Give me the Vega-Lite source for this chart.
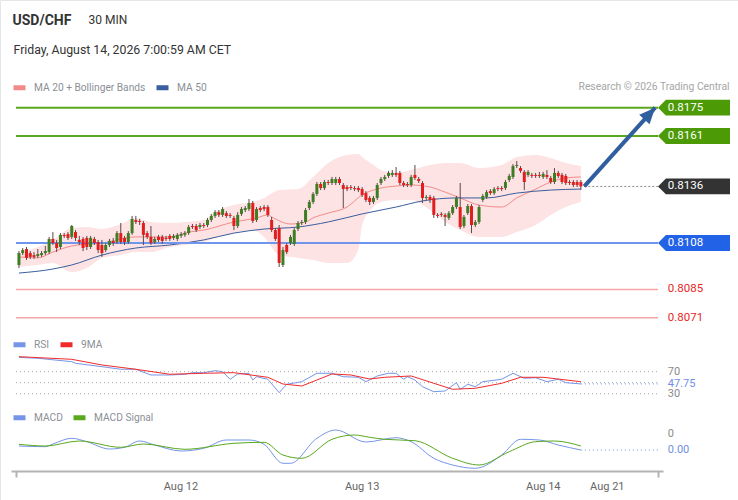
{
"$schema": "https://vega.github.io/schema/vega-lite/v6.json",
"width": 738, "height": 500, "autosize": "none", "padding": 0,
"background": "#ffffff",
"config": {"view": {"stroke": "#e4e7ea"}, "font": "Roboto"},
"datasets": {
"candles": [
{"i":0,"o":0.80971,"h":0.8104,"l":0.80956,"c":0.8103},
{"i":1,"o":0.8103,"h":0.81055,"l":0.8102,"c":0.81045},
{"i":2,"o":0.8105,"h":0.8106,"l":0.80996,"c":0.81006},
{"i":3,"o":0.8103,"h":0.8104,"l":0.81001,"c":0.81011},
{"i":4,"o":0.8102,"h":0.81035,"l":0.81001,"c":0.81011},
{"i":5,"o":0.81015,"h":0.8105,"l":0.81006,"c":0.81025},
{"i":6,"o":0.8102,"h":0.8104,"l":0.81011,"c":0.8103},
{"i":7,"o":0.8103,"h":0.81065,"l":0.8102,"c":0.8104},
{"i":8,"o":0.81035,"h":0.8111,"l":0.81025,"c":0.811},
{"i":9,"o":0.811,"h":0.81134,"l":0.8107,"c":0.8108},
{"i":10,"o":0.8108,"h":0.81095,"l":0.81035,"c":0.81055},
{"i":11,"o":0.8106,"h":0.81129,"l":0.8105,"c":0.8112},
{"i":12,"o":0.8112,"h":0.81129,"l":0.81105,"c":0.81115},
{"i":13,"o":0.81124,"h":0.81134,"l":0.81095,"c":0.81105},
{"i":14,"o":0.8111,"h":0.81169,"l":0.811,"c":0.81164},
{"i":15,"o":0.81134,"h":0.81144,"l":0.8109,"c":0.81105},
{"i":16,"o":0.81095,"h":0.81115,"l":0.8107,"c":0.81085},
{"i":17,"o":0.811,"h":0.8111,"l":0.8104,"c":0.81055},
{"i":18,"o":0.81105,"h":0.81115,"l":0.81045,"c":0.8106},
{"i":19,"o":0.8106,"h":0.81115,"l":0.8105,"c":0.81105},
{"i":20,"o":0.811,"h":0.8111,"l":0.8107,"c":0.8108},
{"i":21,"o":0.81085,"h":0.81095,"l":0.8103,"c":0.81045},
{"i":22,"o":0.8107,"h":0.81095,"l":0.81011,"c":0.8103},
{"i":23,"o":0.81045,"h":0.8108,"l":0.81035,"c":0.8107},
{"i":24,"o":0.8107,"h":0.811,"l":0.8106,"c":0.8109},
{"i":25,"o":0.8109,"h":0.81105,"l":0.81065,"c":0.8108},
{"i":26,"o":0.81085,"h":0.81139,"l":0.81075,"c":0.81129},
{"i":27,"o":0.81129,"h":0.81179,"l":0.81075,"c":0.81085},
{"i":28,"o":0.81105,"h":0.81115,"l":0.8107,"c":0.81085},
{"i":29,"o":0.81085,"h":0.81139,"l":0.81075,"c":0.81129},
{"i":30,"o":0.81129,"h":0.81214,"l":0.8112,"c":0.81199},
{"i":31,"o":0.81194,"h":0.81214,"l":0.81174,"c":0.81184},
{"i":32,"o":0.81189,"h":0.81199,"l":0.81169,"c":0.81184},
{"i":33,"o":0.81179,"h":0.81189,"l":0.8107,"c":0.8112},
{"i":34,"o":0.81129,"h":0.81139,"l":0.811,"c":0.8111},
{"i":35,"o":0.8111,"h":0.81164,"l":0.8107,"c":0.8108},
{"i":36,"o":0.81085,"h":0.8111,"l":0.81075,"c":0.811},
{"i":37,"o":0.8111,"h":0.8112,"l":0.81085,"c":0.81095},
{"i":38,"o":0.8111,"h":0.8112,"l":0.81075,"c":0.8109},
{"i":39,"o":0.81105,"h":0.81115,"l":0.8109,"c":0.811},
{"i":40,"o":0.81115,"h":0.81124,"l":0.8109,"c":0.811},
{"i":41,"o":0.81105,"h":0.81124,"l":0.81095,"c":0.81115},
{"i":42,"o":0.811,"h":0.81129,"l":0.8109,"c":0.8112},
{"i":43,"o":0.81115,"h":0.81134,"l":0.81105,"c":0.81124},
{"i":44,"o":0.8112,"h":0.81139,"l":0.8111,"c":0.81129},
{"i":45,"o":0.81129,"h":0.81169,"l":0.8112,"c":0.81159},
{"i":46,"o":0.81164,"h":0.81174,"l":0.81149,"c":0.81159},
{"i":47,"o":0.81164,"h":0.81174,"l":0.81134,"c":0.81144},
{"i":48,"o":0.81159,"h":0.81179,"l":0.81149,"c":0.81169},
{"i":49,"o":0.81169,"h":0.81179,"l":0.81154,"c":0.81164},
{"i":50,"o":0.81169,"h":0.81204,"l":0.81159,"c":0.81194},
{"i":51,"o":0.81194,"h":0.81224,"l":0.81184,"c":0.81214},
{"i":52,"o":0.81214,"h":0.81243,"l":0.81204,"c":0.81233},
{"i":53,"o":0.81233,"h":0.81243,"l":0.81209,"c":0.81219},
{"i":54,"o":0.81219,"h":0.81258,"l":0.81209,"c":0.81248},
{"i":55,"o":0.81228,"h":0.81238,"l":0.81204,"c":0.81214},
{"i":56,"o":0.81219,"h":0.81228,"l":0.81204,"c":0.81214},
{"i":57,"o":0.81204,"h":0.81214,"l":0.81144,"c":0.81164},
{"i":58,"o":0.81164,"h":0.81233,"l":0.81154,"c":0.81219},
{"i":59,"o":0.81224,"h":0.81258,"l":0.81214,"c":0.81248},
{"i":60,"o":0.81243,"h":0.81263,"l":0.81233,"c":0.81253},
{"i":61,"o":0.81248,"h":0.81298,"l":0.81238,"c":0.81278},
{"i":62,"o":0.81278,"h":0.81288,"l":0.81179,"c":0.81189},
{"i":63,"o":0.81194,"h":0.81258,"l":0.81184,"c":0.81248},
{"i":64,"o":0.81253,"h":0.81263,"l":0.81233,"c":0.81243},
{"i":65,"o":0.81258,"h":0.81268,"l":0.81238,"c":0.81248},
{"i":66,"o":0.81258,"h":0.81268,"l":0.81209,"c":0.81219},
{"i":67,"o":0.81194,"h":0.81209,"l":0.81134,"c":0.81144},
{"i":68,"o":0.81144,"h":0.81154,"l":0.8109,"c":0.811},
{"i":69,"o":0.81154,"h":0.81169,"l":0.80961,"c":0.80981},
{"i":70,"o":0.80971,"h":0.8106,"l":0.80961,"c":0.81045},
{"i":71,"o":0.8107,"h":0.8108,"l":0.81025,"c":0.81035},
{"i":72,"o":0.8108,"h":0.8112,"l":0.8107,"c":0.8111},
{"i":73,"o":0.81075,"h":0.81154,"l":0.81065,"c":0.81144},
{"i":74,"o":0.81149,"h":0.81189,"l":0.81139,"c":0.81179},
{"i":75,"o":0.81179,"h":0.81194,"l":0.81169,"c":0.81184},
{"i":76,"o":0.81184,"h":0.81253,"l":0.81174,"c":0.81243},
{"i":77,"o":0.81253,"h":0.81293,"l":0.81243,"c":0.81283},
{"i":78,"o":0.81283,"h":0.81332,"l":0.81273,"c":0.81323},
{"i":79,"o":0.81323,"h":0.81382,"l":0.81313,"c":0.81372},
{"i":80,"o":0.81372,"h":0.81382,"l":0.81342,"c":0.81352},
{"i":81,"o":0.81352,"h":0.81392,"l":0.81342,"c":0.81382},
{"i":82,"o":0.81382,"h":0.81392,"l":0.81367,"c":0.81377},
{"i":83,"o":0.81377,"h":0.81407,"l":0.81367,"c":0.81397},
{"i":84,"o":0.81377,"h":0.81407,"l":0.81367,"c":0.81397},
{"i":85,"o":0.81397,"h":0.81407,"l":0.81367,"c":0.81377},
{"i":86,"o":0.81367,"h":0.81377,"l":0.81253,"c":0.81347},
{"i":87,"o":0.81357,"h":0.81367,"l":0.81337,"c":0.81347},
{"i":88,"o":0.81357,"h":0.81367,"l":0.81342,"c":0.81352},
{"i":89,"o":0.81352,"h":0.81362,"l":0.81337,"c":0.81347},
{"i":90,"o":0.81352,"h":0.81362,"l":0.81332,"c":0.81342},
{"i":91,"o":0.81347,"h":0.81357,"l":0.81308,"c":0.81318},
{"i":92,"o":0.81327,"h":0.81337,"l":0.81283,"c":0.81293},
{"i":93,"o":0.81303,"h":0.81313,"l":0.81268,"c":0.81283},
{"i":94,"o":0.81283,"h":0.81313,"l":0.81273,"c":0.81303},
{"i":95,"o":0.81303,"h":0.81377,"l":0.81293,"c":0.81367},
{"i":96,"o":0.81377,"h":0.81407,"l":0.81367,"c":0.81397},
{"i":97,"o":0.81397,"h":0.81417,"l":0.81387,"c":0.81407},
{"i":98,"o":0.81412,"h":0.81437,"l":0.81402,"c":0.81427},
{"i":99,"o":0.81417,"h":0.81441,"l":0.81407,"c":0.81427},
{"i":100,"o":0.81427,"h":0.81456,"l":0.81407,"c":0.81417},
{"i":101,"o":0.81427,"h":0.81437,"l":0.81367,"c":0.81377},
{"i":102,"o":0.81377,"h":0.81387,"l":0.81357,"c":0.81367},
{"i":103,"o":0.81372,"h":0.81382,"l":0.81357,"c":0.81367},
{"i":104,"o":0.81367,"h":0.81417,"l":0.81357,"c":0.81407},
{"i":105,"o":0.81417,"h":0.81466,"l":0.81392,"c":0.81402},
{"i":106,"o":0.81397,"h":0.81407,"l":0.81377,"c":0.81387},
{"i":107,"o":0.81377,"h":0.81387,"l":0.81278,"c":0.81303},
{"i":108,"o":0.81303,"h":0.81318,"l":0.81293,"c":0.81308},
{"i":109,"o":0.81308,"h":0.81318,"l":0.81278,"c":0.81293},
{"i":110,"o":0.81303,"h":0.81313,"l":0.81204,"c":0.81219},
{"i":111,"o":0.81219,"h":0.81228,"l":0.81204,"c":0.81214},
{"i":112,"o":0.81224,"h":0.81233,"l":0.81209,"c":0.81219},
{"i":113,"o":0.81219,"h":0.81228,"l":0.81164,"c":0.81209},
{"i":114,"o":0.81204,"h":0.81238,"l":0.81194,"c":0.81228},
{"i":115,"o":0.81228,"h":0.81268,"l":0.81219,"c":0.81258},
{"i":116,"o":0.81258,"h":0.81313,"l":0.81248,"c":0.81303},
{"i":117,"o":0.81258,"h":0.81377,"l":0.81149,"c":0.81159},
{"i":118,"o":0.81164,"h":0.81219,"l":0.81154,"c":0.81209},
{"i":119,"o":0.81228,"h":0.81273,"l":0.81219,"c":0.81263},
{"i":120,"o":0.81263,"h":0.81273,"l":0.81129,"c":0.81169},
{"i":121,"o":0.81169,"h":0.81194,"l":0.81159,"c":0.81184},
{"i":122,"o":0.81184,"h":0.81268,"l":0.81174,"c":0.81258},
{"i":123,"o":0.81293,"h":0.81323,"l":0.81283,"c":0.81313},
{"i":124,"o":0.81308,"h":0.81342,"l":0.81298,"c":0.81332},
{"i":125,"o":0.81337,"h":0.81347,"l":0.81318,"c":0.81327},
{"i":126,"o":0.81327,"h":0.81357,"l":0.81318,"c":0.81347},
{"i":127,"o":0.81352,"h":0.81362,"l":0.81337,"c":0.81347},
{"i":128,"o":0.81352,"h":0.81362,"l":0.81337,"c":0.81347},
{"i":129,"o":0.81352,"h":0.81392,"l":0.81342,"c":0.81382},
{"i":130,"o":0.81392,"h":0.81422,"l":0.81382,"c":0.81412},
{"i":131,"o":0.81407,"h":0.81471,"l":0.81397,"c":0.81461},
{"i":132,"o":0.81461,"h":0.81486,"l":0.81451,"c":0.81466},
{"i":133,"o":0.81451,"h":0.81461,"l":0.81427,"c":0.81437},
{"i":134,"o":0.81432,"h":0.81441,"l":0.81342,"c":0.81382},
{"i":135,"o":0.81417,"h":0.81441,"l":0.81407,"c":0.81432},
{"i":136,"o":0.81417,"h":0.81427,"l":0.81402,"c":0.81412},
{"i":137,"o":0.81417,"h":0.81427,"l":0.81402,"c":0.81412},
{"i":138,"o":0.81417,"h":0.81432,"l":0.81402,"c":0.81412},
{"i":139,"o":0.81407,"h":0.81432,"l":0.81397,"c":0.81422},
{"i":140,"o":0.81417,"h":0.81441,"l":0.81397,"c":0.81407},
{"i":141,"o":0.81402,"h":0.81412,"l":0.81372,"c":0.81382},
{"i":142,"o":0.81382,"h":0.81451,"l":0.81372,"c":0.81427},
{"i":143,"o":0.81427,"h":0.81437,"l":0.81402,"c":0.81412},
{"i":144,"o":0.81417,"h":0.81427,"l":0.81372,"c":0.81382},
{"i":145,"o":0.81412,"h":0.81422,"l":0.81367,"c":0.81377},
{"i":146,"o":0.81382,"h":0.81392,"l":0.81367,"c":0.81377},
{"i":147,"o":0.81382,"h":0.81392,"l":0.81357,"c":0.81367},
{"i":148,"o":0.81382,"h":0.81392,"l":0.81357,"c":0.81367},
{"i":149,"o":0.81382,"h":0.81392,"l":0.81342,"c":0.8136}
],
"band": [
{"i":0,"up":0.8103,"lo":0.80961},{"i":5,"up":0.8106,"lo":0.80971},{"i":9,"up":0.81095,"lo":0.80981},
{"i":14,"up":0.81154,"lo":0.80936},{"i":18,"up":0.81159,"lo":0.80956},{"i":22,"up":0.81149,"lo":0.81006},
{"i":27,"up":0.81174,"lo":0.8102},{"i":31,"up":0.81204,"lo":0.81035},{"i":35,"up":0.81184,"lo":0.81035},
{"i":40,"up":0.81179,"lo":0.8106},{"i":44,"up":0.81184,"lo":0.8107},{"i":49,"up":0.81194,"lo":0.81085},
{"i":53,"up":0.81243,"lo":0.8111},{"i":57,"up":0.81268,"lo":0.81129},{"i":62,"up":0.81283,"lo":0.81144},
{"i":65,"up":0.81303,"lo":0.8111},{"i":69,"up":0.81342,"lo":0.8102},{"i":74,"up":0.81347,"lo":0.81006},
{"i":78,"up":0.81407,"lo":0.80996},{"i":82,"up":0.81476,"lo":0.80981},{"i":87,"up":0.81516,"lo":0.80981},
{"i":90,"up":0.81521,"lo":0.81045},{"i":91,"up":0.81506,"lo":0.81169},{"i":94,"up":0.81466,"lo":0.81258},
{"i":96,"up":0.81441,"lo":0.81283},{"i":100,"up":0.81427,"lo":0.81293},{"i":104,"up":0.81441,"lo":0.81293},
{"i":109,"up":0.81466,"lo":0.81243},{"i":113,"up":0.81476,"lo":0.81184},{"i":117,"up":0.81476,"lo":0.81144},
{"i":122,"up":0.81451,"lo":0.8111},{"i":128,"up":0.81466,"lo":0.8111},{"i":132,"up":0.81506,"lo":0.81134},
{"i":137,"up":0.81516,"lo":0.81169},{"i":141,"up":0.81501,"lo":0.81219},{"i":145,"up":0.81476,"lo":0.81258},
{"i":149,"up":0.81461,"lo":0.81283}
],
"ma": [
{"s":"MA 20 + Bollinger Bands","i":0,"v":0.81011},{"s":"MA 20 + Bollinger Bands","i":5,"v":0.81006},
{"s":"MA 20 + Bollinger Bands","i":9,"v":0.81035},{"s":"MA 20 + Bollinger Bands","i":14,"v":0.81065},
{"s":"MA 20 + Bollinger Bands","i":22,"v":0.8108},{"s":"MA 20 + Bollinger Bands","i":31,"v":0.8111},
{"s":"MA 20 + Bollinger Bands","i":40,"v":0.8111},{"s":"MA 20 + Bollinger Bands","i":45,"v":0.81134},
{"s":"MA 20 + Bollinger Bands","i":49,"v":0.81144},{"s":"MA 20 + Bollinger Bands","i":57,"v":0.81184},
{"s":"MA 20 + Bollinger Bands","i":63,"v":0.81204},{"s":"MA 20 + Bollinger Bands","i":66,"v":0.81219},
{"s":"MA 20 + Bollinger Bands","i":67,"v":0.81209},{"s":"MA 20 + Bollinger Bands","i":72,"v":0.81174},
{"s":"MA 20 + Bollinger Bands","i":76,"v":0.81184},{"s":"MA 20 + Bollinger Bands","i":78,"v":0.81204},
{"s":"MA 20 + Bollinger Bands","i":82,"v":0.81228},{"s":"MA 20 + Bollinger Bands","i":87,"v":0.81258},
{"s":"MA 20 + Bollinger Bands","i":91,"v":0.81318},{"s":"MA 20 + Bollinger Bands","i":96,"v":0.81352},
{"s":"MA 20 + Bollinger Bands","i":100,"v":0.81362},{"s":"MA 20 + Bollinger Bands","i":104,"v":0.81367},
{"s":"MA 20 + Bollinger Bands","i":109,"v":0.81357},{"s":"MA 20 + Bollinger Bands","i":113,"v":0.81332},
{"s":"MA 20 + Bollinger Bands","i":117,"v":0.81303},{"s":"MA 20 + Bollinger Bands","i":122,"v":0.81268},
{"s":"MA 20 + Bollinger Bands","i":128,"v":0.81258},{"s":"MA 20 + Bollinger Bands","i":132,"v":0.81303},
{"s":"MA 20 + Bollinger Bands","i":137,"v":0.81347},{"s":"MA 20 + Bollinger Bands","i":141,"v":0.81382},
{"s":"MA 20 + Bollinger Bands","i":145,"v":0.81402},{"s":"MA 20 + Bollinger Bands","i":149,"v":0.81407},
{"s":"MA 50","i":0,"v":0.80931},{"s":"MA 50","i":9,"v":0.80951},{"s":"MA 50","i":14,"v":0.80971},
{"s":"MA 50","i":22,"v":0.8102},{"s":"MA 50","i":31,"v":0.81055},{"s":"MA 50","i":40,"v":0.8107},
{"s":"MA 50","i":49,"v":0.81095},{"s":"MA 50","i":57,"v":0.81129},{"s":"MA 50","i":65,"v":0.81149},
{"s":"MA 50","i":74,"v":0.81159},{"s":"MA 50","i":82,"v":0.81184},{"s":"MA 50","i":91,"v":0.81224},
{"s":"MA 50","i":100,"v":0.81258},{"s":"MA 50","i":107,"v":0.81288},{"s":"MA 50","i":116,"v":0.81303},
{"s":"MA 50","i":124,"v":0.81303},{"s":"MA 50","i":132,"v":0.81327},{"s":"MA 50","i":141,"v":0.81342},
{"s":"MA 50","i":149,"v":0.81347}
],
"rsi": [
{"s":"RSI","i":0,"v":96},{"s":"RSI","i":5,"v":94.4},{"s":"RSI","i":14,"v":88.2},{"s":"RSI","i":15,"v":85.3},
{"s":"RSI","i":22,"v":79.1},{"s":"RSI","i":27,"v":74.4},{"s":"RSI","i":31,"v":74.4},{"s":"RSI","i":35,"v":64},
{"s":"RSI","i":40,"v":64},{"s":"RSI","i":44,"v":65.3},{"s":"RSI","i":46,"v":68.2},{"s":"RSI","i":49,"v":68.2},
{"s":"RSI","i":52,"v":71.8},{"s":"RSI","i":54,"v":70},{"s":"RSI","i":56,"v":56.2},{"s":"RSI","i":58,"v":65.8},
{"s":"RSI","i":61,"v":67.1},{"s":"RSI","i":62,"v":54.9},{"s":"RSI","i":63,"v":60.9},{"s":"RSI","i":66,"v":56.2},
{"s":"RSI","i":69,"v":31.8},{"s":"RSI","i":71,"v":47.1},{"s":"RSI","i":75,"v":51.8},{"s":"RSI","i":79,"v":67.1},
{"s":"RSI","i":83,"v":67.1},{"s":"RSI","i":86,"v":60.9},{"s":"RSI","i":90,"v":59.8},{"s":"RSI","i":92,"v":51.8},
{"s":"RSI","i":95,"v":62.2},{"s":"RSI","i":98,"v":67.1},{"s":"RSI","i":100,"v":67.1},{"s":"RSI","i":102,"v":56.2},
{"s":"RSI","i":103,"v":60.9},{"s":"RSI","i":105,"v":54.9},{"s":"RSI","i":107,"v":42.7},{"s":"RSI","i":110,"v":33.6},
{"s":"RSI","i":113,"v":34.9},{"s":"RSI","i":116,"v":50},{"s":"RSI","i":117,"v":38},{"s":"RSI","i":119,"v":47.1},
{"s":"RSI","i":121,"v":42.7},{"s":"RSI","i":123,"v":51.8},{"s":"RSI","i":128,"v":56.2},{"s":"RSI","i":131,"v":67.1},
{"s":"RSI","i":134,"v":58},{"s":"RSI","i":137,"v":59.1},{"s":"RSI","i":140,"v":51.8},{"s":"RSI","i":143,"v":56.2},
{"s":"RSI","i":145,"v":50},{"s":"RSI","i":149,"v":47.75},
{"s":"9MA","i":0,"v":97.3},{"s":"9MA","i":14,"v":92.5},{"s":"9MA","i":22,"v":82.2},{"s":"9MA","i":31,"v":74.4},
{"s":"9MA","i":40,"v":65.3},{"s":"9MA","i":49,"v":67.1},{"s":"9MA","i":57,"v":68.2},{"s":"9MA","i":66,"v":59.8},
{"s":"9MA","i":70,"v":47.6},{"s":"9MA","i":75,"v":44},{"s":"9MA","i":79,"v":54.9},{"s":"9MA","i":83,"v":65.8},
{"s":"9MA","i":88,"v":64},{"s":"9MA","i":93,"v":56.7},{"s":"9MA","i":97,"v":59.8},{"s":"9MA","i":104,"v":62.2},
{"s":"9MA","i":110,"v":48.9},{"s":"9MA","i":115,"v":38},{"s":"9MA","i":121,"v":39.8},{"s":"9MA","i":128,"v":48.9},
{"s":"9MA","i":133,"v":59.8},{"s":"9MA","i":139,"v":59.8},{"s":"9MA","i":149,"v":51.8}
],
"macd": [
{"s":"MACD","i":0,"v":-0.00012},{"s":"MACD","i":7,"v":-0.000127},{"s":"MACD","i":9,"v":-0.0001},
{"s":"MACD","i":14,"v":-0.000043},{"s":"MACD","i":18,"v":-0.000077},{"s":"MACD","i":24,"v":-0.00015},
{"s":"MACD","i":28,"v":-0.000133},{"s":"MACD","i":32,"v":-0.00007},{"s":"MACD","i":36,"v":-0.00011},
{"s":"MACD","i":43,"v":-0.00017},{"s":"MACD","i":49,"v":-0.000143},{"s":"MACD","i":55,"v":-0.00006},
{"s":"MACD","i":61,"v":-0.00006},{"s":"MACD","i":65,"v":-0.000103},{"s":"MACD","i":70,"v":-0.000293},
{"s":"MACD","i":72,"v":-0.000293},{"s":"MACD","i":79,"v":-0.000043},{"s":"MACD","i":84,"v":0.00004},
{"s":"MACD","i":92,"v":-0.00008},{"s":"MACD","i":100,"v":-0.000037},{"s":"MACD","i":104,"v":-0.000077},
{"s":"MACD","i":110,"v":-0.000243},{"s":"MACD","i":115,"v":-0.00031},{"s":"MACD","i":121,"v":-0.000343},
{"s":"MACD","i":128,"v":-0.00021},{"s":"MACD","i":133,"v":-0.000053},{"s":"MACD","i":138,"v":-0.00006},
{"s":"MACD","i":143,"v":-0.00011},{"s":"MACD","i":149,"v":-0.00016},
{"s":"MACD Signal","i":0,"v":-0.000103},{"s":"MACD Signal","i":7,"v":-0.00012},{"s":"MACD Signal","i":16,"v":-0.00007},
{"s":"MACD Signal","i":27,"v":-0.000133},{"s":"MACD Signal","i":33,"v":-0.0001},{"s":"MACD Signal","i":44,"v":-0.000153},
{"s":"MACD Signal","i":57,"v":-0.000093},{"s":"MACD Signal","i":65,"v":-0.000083},{"s":"MACD Signal","i":70,"v":-0.00021},
{"s":"MACD Signal","i":75,"v":-0.000243},{"s":"MACD Signal","i":83,"v":-0.000053},{"s":"MACD Signal","i":89,"v":-0.00001},
{"s":"MACD Signal","i":93,"v":-0.000033},{"s":"MACD Signal","i":97,"v":-0.000053},{"s":"MACD Signal","i":105,"v":-0.000067},
{"s":"MACD Signal","i":115,"v":-0.000243},{"s":"MACD Signal","i":122,"v":-0.00031},{"s":"MACD Signal","i":130,"v":-0.000177},
{"s":"MACD Signal","i":137,"v":-0.000077},{"s":"MACD Signal","i":142,"v":-0.00007},{"s":"MACD Signal","i":149,"v":-0.00012}
],
"levels": [
{"p":0.8175,"k":"res"},{"p":0.8161,"k":"res"},{"p":0.8136,"k":"last"},
{"p":0.8108,"k":"piv"},{"p":0.8085,"k":"sup"},{"p":0.8071,"k":"sup"}
],
"rsiLevels": [{"v":70},{"v":50},{"v":30}],
"macdTicks": [{"v":0}],
"arrow": [{"i":149.9,"p":0.8136},{"i":168.7,"p":0.8175}]
},
"resolve": {"scale": {"y": "independent", "color": "independent"}, "axis": {"y": "independent", "x": "independent"}},
"layer": [
 {"data":{"name":"band"},
  "mark":{"type":"area","interpolate":"monotone","color":"#fde3e3","opacity":1},
  "encoding":{
   "x":{"field":"i","type":"quantitative","scale":{"domain":[-0.78,169.45],"range":[11,663],"nice":false,"zero":false},
    "axis":{"orient":"bottom","offset":-29,"values":[-0.78,42.82,90.86,138.9,155.87,169.45],
     "labelExpr":"datum.value < 0 || datum.value > 169 ? '' : datum.value < 60 ? 'Aug 12' : datum.value < 110 ? 'Aug 13' : datum.value < 150 ? 'Aug 14' : 'Aug 21'",
     "labelOverlap":false,"labelFlush":false,"labelFont":"Roboto","labelFontSize":11,"labelColor":"#666666","labelPadding":3,
     "domainColor":"#b3b3b3","domainWidth":2,"tickColor":"#b3b3b3","tickWidth":2,"tickSize":6,
     "tickOpacity":{"condition":{"test":"datum.value < 0 || datum.value > 169","value":1},"value":0},
     "grid":false,"title":"30 MIN","titleX":88,"titleY":-448,"titleAlign":"left","titleBaseline":"alphabetic",
     "titleFont":"Roboto","titleFontSize":12,"titleFontWeight":"normal","titleColor":"#333333"}},
   "y":{"field":"up","type":"quantitative","scale":{"domain":[0.79807,0.822834],"nice":false,"zero":false},
    "axis":{"orient":"left","labels":false,"ticks":false,"domain":false,"grid":false,"title":"USD/CHF","titleX":12,"titleY":24,
     "titleAngle":0,"titleAlign":"left","titleBaseline":"alphabetic","titleFont":"Roboto","titleFontSize":14,"titleFontWeight":"bold","titleColor":"#333333"}},
   "y2":{"field":"lo"}}},
 {"data":{"name":"ma"},
  "mark":{"type":"line","interpolate":"monotone"},
  "encoding":{
   "x":{"field":"i","type":"quantitative","scale":{"domain":[-0.78,169.45],"range":[11,663],"nice":false,"zero":false},"axis":null},
   "y":{"field":"v","type":"quantitative","scale":{"domain":[0.79807,0.822834],"nice":false,"zero":false},"axis":null},
   "color":{"field":"s","type":"nominal","scale":{"domain":["MA 20 + Bollinger Bands","MA 50"],"range":["#f38a8a","#3a5e9e"]},
    "legend":{"orient":"none","legendX":11,"legendY":79,"direction":"horizontal","title":null,"symbolType":"M-1,0H1","symbolSize":144,
     "symbolStrokeWidth":5,"labelFont":"Roboto","labelFontSize":10.2,"labelColor":"#8b8f96","labelOffset":6,"columnPadding":0,"padding":0}},
   "strokeWidth":{"value":1}}},
 {"data":{"name":"levels"},"transform":[{"filter":"datum.k != 'last'"}],
  "mark":{"type":"rule"},
  "encoding":{
   "x":{"datum":-0.78,"type":"quantitative","scale":{"domain":[-0.78,169.45],"range":[11,663],"nice":false,"zero":false},"axis":null},
   "x2":{"datum":169.45},
   "y":{"field":"p","type":"quantitative","scale":{"domain":[0.79807,0.822834],"nice":false,"zero":false},"axis":null},
   "color":{"condition":[{"test":"datum.k == 'res'","value":"#5aa71e"},{"test":"datum.k == 'piv'","value":"#6f95ec"}],"value":"#f6a6a6"},
   "strokeWidth":{"condition":{"test":"datum.k == 'sup'","value":1.5},"value":2}}},
 {"data":{"name":"levels"},"transform":[{"filter":"datum.k == 'last'"}],
  "mark":{"type":"rule","strokeDash":[2,2],"color":"#8c8c8c","strokeWidth":1},
  "encoding":{
   "x":{"datum":149.9,"type":"quantitative","scale":{"domain":[-0.78,169.45],"range":[11,663],"nice":false,"zero":false},"axis":null},
   "x2":{"datum":169.45},
   "y":{"field":"p","type":"quantitative","scale":{"domain":[0.79807,0.822834],"nice":false,"zero":false},"axis":null}}},
 {"data":{"name":"candles"},
  "mark":{"type":"rule","color":"#5e4848","strokeWidth":1},
  "encoding":{
   "x":{"field":"i","type":"quantitative","scale":{"domain":[-0.78,169.45],"range":[11,663],"nice":false,"zero":false},"axis":null},
   "y":{"field":"l","type":"quantitative","scale":{"domain":[0.79807,0.822834],"nice":false,"zero":false},"axis":null},
   "y2":{"field":"h"}}},
 {"data":{"name":"candles"},
  "mark":{"type":"bar","width":3},
  "encoding":{
   "x":{"field":"i","type":"quantitative","scale":{"domain":[-0.78,169.45],"range":[11,663],"nice":false,"zero":false},"axis":null},
   "y":{"field":"o","type":"quantitative","scale":{"domain":[0.79807,0.822834],"nice":false,"zero":false},"axis":null},
   "y2":{"field":"c"},
   "color":{"condition":{"test":"datum.c > datum.o","value":"#3d7d24"},"value":"#e21d1d"}}},
 {"data":{"name":"arrow"},
  "mark":{"type":"line","color":"#2f5f9f","strokeWidth":4},
  "encoding":{
   "x":{"field":"i","type":"quantitative","scale":{"domain":[-0.78,169.45],"range":[11,663],"nice":false,"zero":false},"axis":null},
   "y":{"field":"p","type":"quantitative","scale":{"domain":[0.79807,0.822834],"nice":false,"zero":false},"axis":null}}},
 {"data":{"name":"arrow"},"transform":[{"filter":"datum.p > 0.815"}],
  "mark":{"type":"point","shape":"M0,0L0.7,1.6L-0.7,1.6Z","size":400,"angle":42.5,"filled":true,"color":"#2f5f9f","opacity":1},
  "encoding":{
   "x":{"field":"i","type":"quantitative","scale":{"domain":[-0.78,169.45],"range":[11,663],"nice":false,"zero":false},"axis":null},
   "y":{"field":"p","type":"quantitative","scale":{"domain":[0.79807,0.822834],"nice":false,"zero":false},"axis":null}}},
 {"data":{"name":"levels"},"transform":[{"filter":"datum.k != 'sup'"}],
  "mark":{"type":"point","shape":"M0,0L0.22,-0.22L2,-0.22L2,0.22L0.22,0.22Z","size":5184,"filled":true,"opacity":1,"strokeWidth":0},
  "encoding":{
   "x":{"datum":169.45,"type":"quantitative","scale":{"domain":[-0.78,169.45],"range":[11,663],"nice":false,"zero":false},"axis":null},
   "y":{"field":"p","type":"quantitative","scale":{"domain":[0.79807,0.822834],"nice":false,"zero":false},"axis":null},
   "color":{"condition":[{"test":"datum.k == 'res'","value":"#4c9a06"},{"test":"datum.k == 'piv'","value":"#2262e6"}],"value":"#333333"}}},
 {"data":{"name":"levels"},
  "mark":{"type":"text","align":"left","baseline":"middle","fontSize":11.5,"font":"Roboto"},
  "encoding":{
   "x":{"datum":172.06,"type":"quantitative","scale":{"domain":[-0.78,169.45],"range":[11,663],"nice":false,"zero":false},"axis":null},
   "y":{"field":"p","type":"quantitative","scale":{"domain":[0.79807,0.822834],"nice":false,"zero":false},"axis":null},
   "text":{"field":"p","type":"quantitative","format":".4f"},
   "color":{"condition":{"test":"datum.k == 'sup'","value":"#e8281f"},"value":"#ffffff"}}},
 {"data":{"name":"rsiLevels"},
  "mark":{"type":"rule","strokeDash":[1,3],"color":"#a8a8a8","strokeWidth":1},
  "encoding":{
   "x":{"datum":-0.78,"type":"quantitative","scale":{"domain":[-0.78,169.45],"range":[11,663],"nice":false,"zero":false},"axis":null},
   "x2":{"datum":169.45},
   "y":{"field":"v","type":"quantitative","scale":{"domain":[-163.3,745.8],"nice":false,"zero":false},
    "axis":{"orient":"left","labels":false,"ticks":false,"domain":false,"grid":false,"title":"Friday, August 14, 2026 7:00:59 AM CET",
     "titleX":13,"titleY":53,"titleAngle":0,"titleAlign":"left","titleBaseline":"alphabetic","titleFont":"Roboto","titleFontSize":12.3,
     "titleFontWeight":"normal","titleColor":"#333333"}}}},
 {"data":{"name":"rsi"},
  "mark":{"type":"line"},
  "encoding":{
   "x":{"field":"i","type":"quantitative","scale":{"domain":[-0.78,169.45],"range":[11,663],"nice":false,"zero":false},"axis":null},
   "y":{"field":"v","type":"quantitative","scale":{"domain":[-163.3,745.8],"nice":false,"zero":false},"axis":null},
   "color":{"field":"s","type":"nominal","scale":{"domain":["RSI","9MA"],"range":["#7595e6","#f02a2a"]},
    "legend":{"orient":"none","legendX":11,"legendY":336,"direction":"horizontal","title":null,"symbolType":"M-1,0H1","symbolSize":144,
     "symbolStrokeWidth":5,"labelFont":"Roboto","labelFontSize":10.2,"labelColor":"#8b8f96","labelOffset":6,"columnPadding":0,"padding":0}},
   "strokeWidth":{"value":1}}},
 {"data":{"name":"rsi"},"transform":[{"filter":"datum.s == 'RSI' && datum.i == 149"}],
  "mark":{"type":"rule","strokeDash":[1,3],"color":"#7595e6","strokeWidth":1},
  "encoding":{
   "x":{"datum":149,"type":"quantitative","scale":{"domain":[-0.78,169.45],"range":[11,663],"nice":false,"zero":false},"axis":null},
   "x2":{"datum":169.45},
   "y":{"field":"v","type":"quantitative","scale":{"domain":[-163.3,745.8],"nice":false,"zero":false},"axis":null}}},
 {"data":{"name":"rsiLevels"},"transform":[{"filter":"datum.v != 50"}],
  "mark":{"type":"text","align":"left","baseline":"middle","fontSize":11,"font":"Roboto","color":"#8a8a8a"},
  "encoding":{
   "x":{"datum":172.06,"type":"quantitative","scale":{"domain":[-0.78,169.45],"range":[11,663],"nice":false,"zero":false},"axis":null},
   "y":{"field":"v","type":"quantitative","scale":{"domain":[-163.3,745.8],"nice":false,"zero":false},"axis":null},
   "text":{"field":"v","type":"quantitative","format":"d"}}},
 {"data":{"name":"rsi"},"transform":[{"filter":"datum.s == 'RSI' && datum.i == 149"}],
  "mark":{"type":"text","align":"left","baseline":"middle","fontSize":11,"font":"Roboto","color":"#6f8fe6"},
  "encoding":{
   "x":{"datum":172.06,"type":"quantitative","scale":{"domain":[-0.78,169.45],"range":[11,663],"nice":false,"zero":false},"axis":null},
   "y":{"field":"v","type":"quantitative","scale":{"domain":[-163.3,745.8],"nice":false,"zero":false},"axis":null},
   "text":{"field":"v","type":"quantitative","format":".2f"}}},
 {"data":{"name":"macd"},
  "mark":{"type":"line","interpolate":"monotone"},
  "encoding":{
   "x":{"field":"i","type":"quantitative","scale":{"domain":[-0.78,169.45],"range":[11,663],"nice":false,"zero":false},"axis":null},
   "y":{"field":"v","type":"quantitative","scale":{"domain":[-0.00066,0.00434],"nice":false,"zero":false},
    "axis":{"orient":"left","labels":false,"ticks":false,"domain":false,"grid":false,"title":"Research © 2026 Trading Central",
     "titleX":729,"titleY":89,"titleAngle":0,"titleAlign":"right","titleBaseline":"alphabetic","titleFont":"Roboto","titleFontSize":10.3,
     "titleFontWeight":"normal","titleColor":"#a6a6a6"}},
   "color":{"field":"s","type":"nominal","scale":{"domain":["MACD","MACD Signal"],"range":["#7595e6","#5aa81e"]},
    "legend":{"orient":"none","legendX":11,"legendY":409,"direction":"horizontal","title":null,"symbolType":"M-1,0H1","symbolSize":144,
     "symbolStrokeWidth":5,"labelFont":"Roboto","labelFontSize":10.2,"labelColor":"#8b8f96","labelOffset":6,"columnPadding":0,"padding":0}},
   "strokeWidth":{"value":1}}},
 {"data":{"name":"macd"},"transform":[{"filter":"datum.s == 'MACD' && datum.i == 149"}],
  "mark":{"type":"rule","strokeDash":[1,3],"color":"#7595e6","strokeWidth":1},
  "encoding":{
   "x":{"datum":149,"type":"quantitative","scale":{"domain":[-0.78,169.45],"range":[11,663],"nice":false,"zero":false},"axis":null},
   "x2":{"datum":169.45},
   "y":{"field":"v","type":"quantitative","scale":{"domain":[-0.00066,0.00434],"nice":false,"zero":false},"axis":null}}},
 {"data":{"name":"macdTicks"},
  "mark":{"type":"text","align":"left","baseline":"middle","fontSize":11,"font":"Roboto","color":"#8a8a8a"},
  "encoding":{
   "x":{"datum":172.06,"type":"quantitative","scale":{"domain":[-0.78,169.45],"range":[11,663],"nice":false,"zero":false},"axis":null},
   "y":{"field":"v","type":"quantitative","scale":{"domain":[-0.00066,0.00434],"nice":false,"zero":false},"axis":null},
   "text":{"field":"v","type":"quantitative","format":"d"}}},
 {"data":{"name":"macd"},"transform":[{"filter":"datum.s == 'MACD' && datum.i == 149"}],
  "mark":{"type":"text","align":"left","baseline":"middle","fontSize":11,"font":"Roboto","color":"#6f8fe6"},
  "encoding":{
   "x":{"datum":172.06,"type":"quantitative","scale":{"domain":[-0.78,169.45],"range":[11,663],"nice":false,"zero":false},"axis":null},
   "y":{"field":"v","type":"quantitative","scale":{"domain":[-0.00066,0.00434],"nice":false,"zero":false},"axis":null},
   "text":{"field":"v","type":"quantitative","format":".2f"}}}
]
}
